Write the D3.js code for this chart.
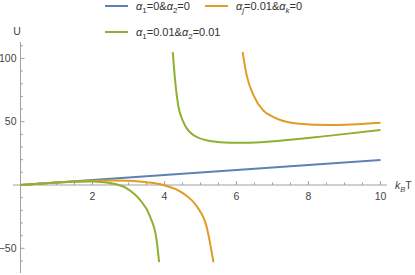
<!DOCTYPE html>
<html>
<head>
<meta charset="utf-8">
<script src="https://cdn.jsdelivr.net/npm/d3@7"></script>
<style>
    body { margin: 0; background: #fff; }
    text { font-family: "Liberation Sans", Arial, sans-serif; }
    .axis_line { stroke: #a0a0a0; stroke-width: 1; }
    .tick_label { fill: #444; font-size: 10.5px; }
    .curve { fill: none; stroke-width: 2; stroke-linejoin: round; }
</style>
</head>
<body>
<div id="chart"></div>
<script>

const width = 415;
const height = 275;

// series values: [kBT, U]
const seriesColors = ['#5e81b5', '#e19c24', '#8fb032'];

const blueLine = [[0, 0], [10, 19.8]];

const orangeLow = [[0, 0], [0.5, 1], [1, 1.9], [1.5, 2.7], [2, 3.3], [2.5, 3.6],
                   [3, 3.4], [3.5, 2.2], [3.97, 0], [4.52, -6.6], [4.9, -17],
                   [5.17, -33], [5.36, -61]];
const orangeHigh = [[6.17, 105], [6.28, 87], [6.47, 71], [6.74, 59], [7.0, 54],
                    [7.3, 50.6], [7.67, 48.6], [8.6, 47.4], [10, 49.2]];

const greenLow = [[0, 0], [0.5, 1], [1, 1.9], [1.5, 2.6], [2, 2.8], [2.5, 1.5],
                  [2.95, -2.6], [3.32, -11.8], [3.6, -25], [3.78, -43.4], [3.85, -61]];
const greenHigh = [[4.23, 105], [4.29, 84], [4.38, 63], [4.52, 50], [4.8, 39.5],
                   [5.26, 34.8], [5.82, 33.4], [6.19, 33.4], [7.2, 35], [8.6, 39],
                   [10, 43.4]];

const xMajorTicks = [2, 4, 6, 8, 10];
const yMajorTicks = [-50, 50, 100];

const svg = d3.select('#chart').append('svg')
              .attr('width', width)
              .attr('height', height);

const x = d3.scaleLinear().domain([0, 10]).range([20.5, 380.5]);
const y = d3.scaleLinear().domain([0, 100]).range([185, 58.4]);

// minor ticks every 0.5 / 10
const xMinor = d3.range(0, 10.01, 0.5).filter(function(v) { return v > 0; });
const yMinor = d3.range(-60, 111, 10).filter(function(v) { return v !== 0; });

// Axes
const axes = svg.append('g');
axes.append('line').classed('axis_line', true)
    .attr('x1', x(-0.21)).attr('x2', x(10.18))
    .attr('y1', y(0)).attr('y2', y(0));
axes.append('line').classed('axis_line', true)
    .attr('x1', x(0)).attr('x2', x(0))
    .attr('y1', y(113)).attr('y2', y(-69.5));

axes.selectAll('line.xtick')
    .data(xMinor)
    .join('line')
    .classed('axis_line', true)
    .attr('x1', function(d) { return x(d); })
    .attr('x2', function(d) { return x(d); })
    .attr('y1', y(0))
    .attr('y2', function(d) { return y(0) - (d % 2 === 0 ? 4 : 2.5); });

axes.selectAll('line.ytick')
    .data(yMinor)
    .join('line')
    .classed('axis_line', true)
    .attr('x1', x(0))
    .attr('x2', function(d) { return x(0) + (d % 50 === 0 ? 4 : 2.5); })
    .attr('y1', function(d) { return y(d); })
    .attr('y2', function(d) { return y(d); });

axes.selectAll('text.xlab')
    .data(xMajorTicks)
    .join('text')
    .classed('tick_label', true)
    .attr('x', function(d) { return x(d); })
    .attr('y', y(0) + 15)
    .attr('text-anchor', 'middle')
    .text(function(d) { return d; });

axes.selectAll('text.ylab')
    .data(yMajorTicks)
    .join('text')
    .classed('tick_label', true)
    .attr('x', x(0) - 4)
    .attr('y', function(d) { return y(d); })
    .attr('dy', '.35em')
    .attr('text-anchor', 'end')
    .text(function(d) { return d < 0 ? '\u2212' + Math.abs(d) : d; });

axes.append('text').classed('tick_label', true)
    .attr('x', 17).attr('y', 35)
    .attr('font-size', '11px')
    .attr('text-anchor', 'middle')
    .text('U');

const xl = axes.append('text').classed('tick_label', true)
    .attr('x', 395).attr('y', y(0) + 4)
    .attr('font-size', '11px');
xl.append('tspan').attr('font-style', 'italic').text('k');
xl.append('tspan').attr('font-size', '7.5px').attr('font-style', 'italic').attr('dy', 2.5).text('B');
xl.append('tspan').attr('dy', -2.5).text('T');

// Curves
const line = d3.line()
               .x(function(d) { return x(d[0]); })
               .y(function(d) { return y(d[1]); })
               .curve(d3.curveMonotoneX);

const curves = [
    {data: blueLine, color: seriesColors[0]},
    {data: orangeLow, color: seriesColors[1]},
    {data: orangeHigh, color: seriesColors[1]},
    {data: greenLow, color: seriesColors[2]},
    {data: greenHigh, color: seriesColors[2]}
];

svg.append('g')
   .selectAll('path')
   .data(curves)
   .join('path')
   .classed('curve', true)
   .attr('stroke', function(d) { return d.color; })
   .attr('d', function(d) { return line(d.data); });

// Legend
const legendItems = [
    {x: 105, y: 6, color: seriesColors[0], parts: [['\u03b1', 'i'], ['1', 's'], ['=0&', 'n'], ['\u03b1', 'i'], ['2', 's'], ['=0', 'n']]},
    {x: 205, y: 6, color: seriesColors[1], parts: [['\u03b1', 'i'], ['j', 'si'], ['=0.01&', 'n'], ['\u03b1', 'i'], ['k', 'si'], ['=0', 'n']]},
    {x: 105, y: 32, color: seriesColors[2], parts: [['\u03b1', 'i'], ['1', 's'], ['=0.01&', 'n'], ['\u03b1', 'i'], ['2', 's'], ['=0.01', 'n']]}
];

const legend = svg.append('g');
legendItems.forEach(function(item) {
    legend.append('line')
          .attr('x1', item.x).attr('x2', item.x + 23)
          .attr('y1', item.y).attr('y2', item.y)
          .attr('stroke', item.color)
          .attr('stroke-width', 2);
    const t = legend.append('text')
          .attr('x', item.x + 31)
          .attr('y', item.y + 4)
          .attr('fill', '#333')
          .attr('font-size', '11px');
    let shift = 0;
    item.parts.forEach(function(p) {
        const span = t.append('tspan').text(p[0]);
        if (p[1] === 'i' || p[1] === 'si')
            span.attr('font-style', 'italic');
        if (p[1] === 's' || p[1] === 'si') {
            span.attr('font-size', '8px').attr('dy', 3 - shift);
            shift = 3;
        } else if (shift !== 0) {
            span.attr('dy', -shift);
            shift = 0;
        }
    });
});

</script>
</body>
</html>
